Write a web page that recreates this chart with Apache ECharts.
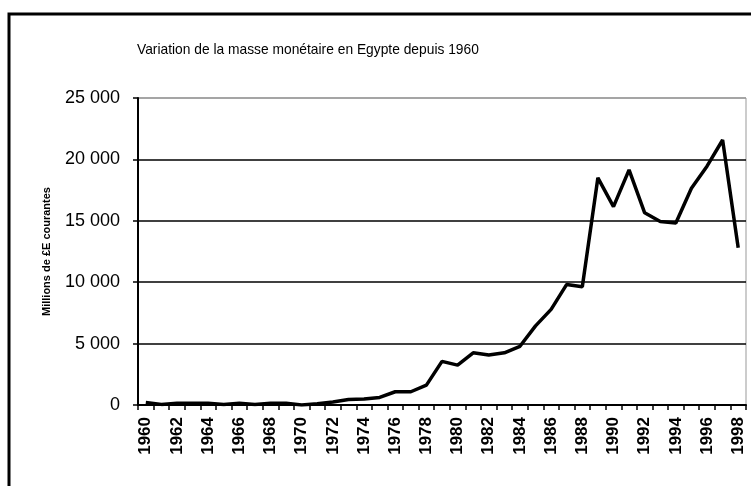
<!DOCTYPE html>
<html>
<head>
<meta charset="utf-8">
<script src="https://cdn.jsdelivr.net/npm/echarts@6/dist/echarts.min.js"></script>
<style>
  html, body { margin: 0; padding: 0; background: #fff; }
  #chart { width: 751px; height: 486px; }
</style>
</head>
<body>
<div id="chart"></div>
<script>
// années 1960 -> 1998
const years = [];
for (let y = 1960; y <= 1998; y++) years.push(String(y));

// masse monétaire, millions de £E courantes
const masse = [
  200, 50, 150, 150, 150, 50, 150, 50, 150, 150,
  0, 100, 250, 450, 480, 620, 1080, 1080, 1620, 3550,
  3250, 4250, 4080, 4250, 4780, 6440, 7790, 9820, 9630, 18500,
  16150, 19150, 15650, 14950, 14820, 17650, 19450, 21580, 12800
];

const yTicks = [0, 5000, 10000, 15000, 20000, 25000];

const chart = echarts.init(document.getElementById('chart'));

chart.setOption({
  animation: false,
  backgroundColor: '#fff',
  textStyle: { fontFamily: 'Liberation Sans, Arial, sans-serif' },
  graphic: [{
    type: 'rect',
    shape: { x: 9, y: 14, width: 800, height: 520 },
    style: { fill: 'none', stroke: '#000', lineWidth: 3 },
    z: 100
  }, {
    // titre, un peu resserré comme dans l'original
    type: 'text',
    x: 137, y: 42,
    scaleX: 0.92,
    style: {
      text: 'Variation de la masse monétaire en Egypte depuis 1960',
      fontSize: 15, fill: '#000',
      fontFamily: 'Liberation Sans, Arial, sans-serif'
    }
  }],
  grid: {
    left: 138, right: 5, top: 98, bottom: 81,
    show: true, borderColor: '#999', borderWidth: 1
  },
  xAxis: {
    type: 'category',
    data: years,
    boundaryGap: true,
    axisLine: { lineStyle: { color: '#000', width: 2 } },
    axisTick: { show: true, interval: 0, length: 5, lineStyle: { color: '#000', width: 1.5 } },
    axisLabel: {
      interval: 1, rotate: 90, margin: 12,
      fontSize: 17, fontWeight: 'bold', color: '#000'
    }
  },
  yAxis: {
    type: 'value',
    min: yTicks[0], max: yTicks[yTicks.length - 1], interval: 5000,
    name: 'Millions de £E courantes',
    nameLocation: 'middle',
    nameGap: 86,
    nameTextStyle: { fontSize: 11, fontWeight: 'bold', color: '#000' },
    axisLine: { show: true, lineStyle: { color: '#000', width: 2 } },
    axisTick: { show: true, length: 5, lineStyle: { color: '#000', width: 1.5 } },
    axisLabel: {
      fontSize: 18, color: '#000', margin: 18,
      formatter: v => String(v).replace(/\B(?=(\d{3})+(?!\d))/g, ' ')
    },
    splitLine: {
      show: true,
      lineStyle: { color: ['#000', '#000', '#000', '#000', '#000', '#999'], width: 1.5 }
    }
  },
  series: [{
    type: 'line',
    data: masse,
    showSymbol: false,
    lineStyle: { color: '#000', width: 3.5 },
    z: 5
  }]
});
</script>
</body>
</html>
